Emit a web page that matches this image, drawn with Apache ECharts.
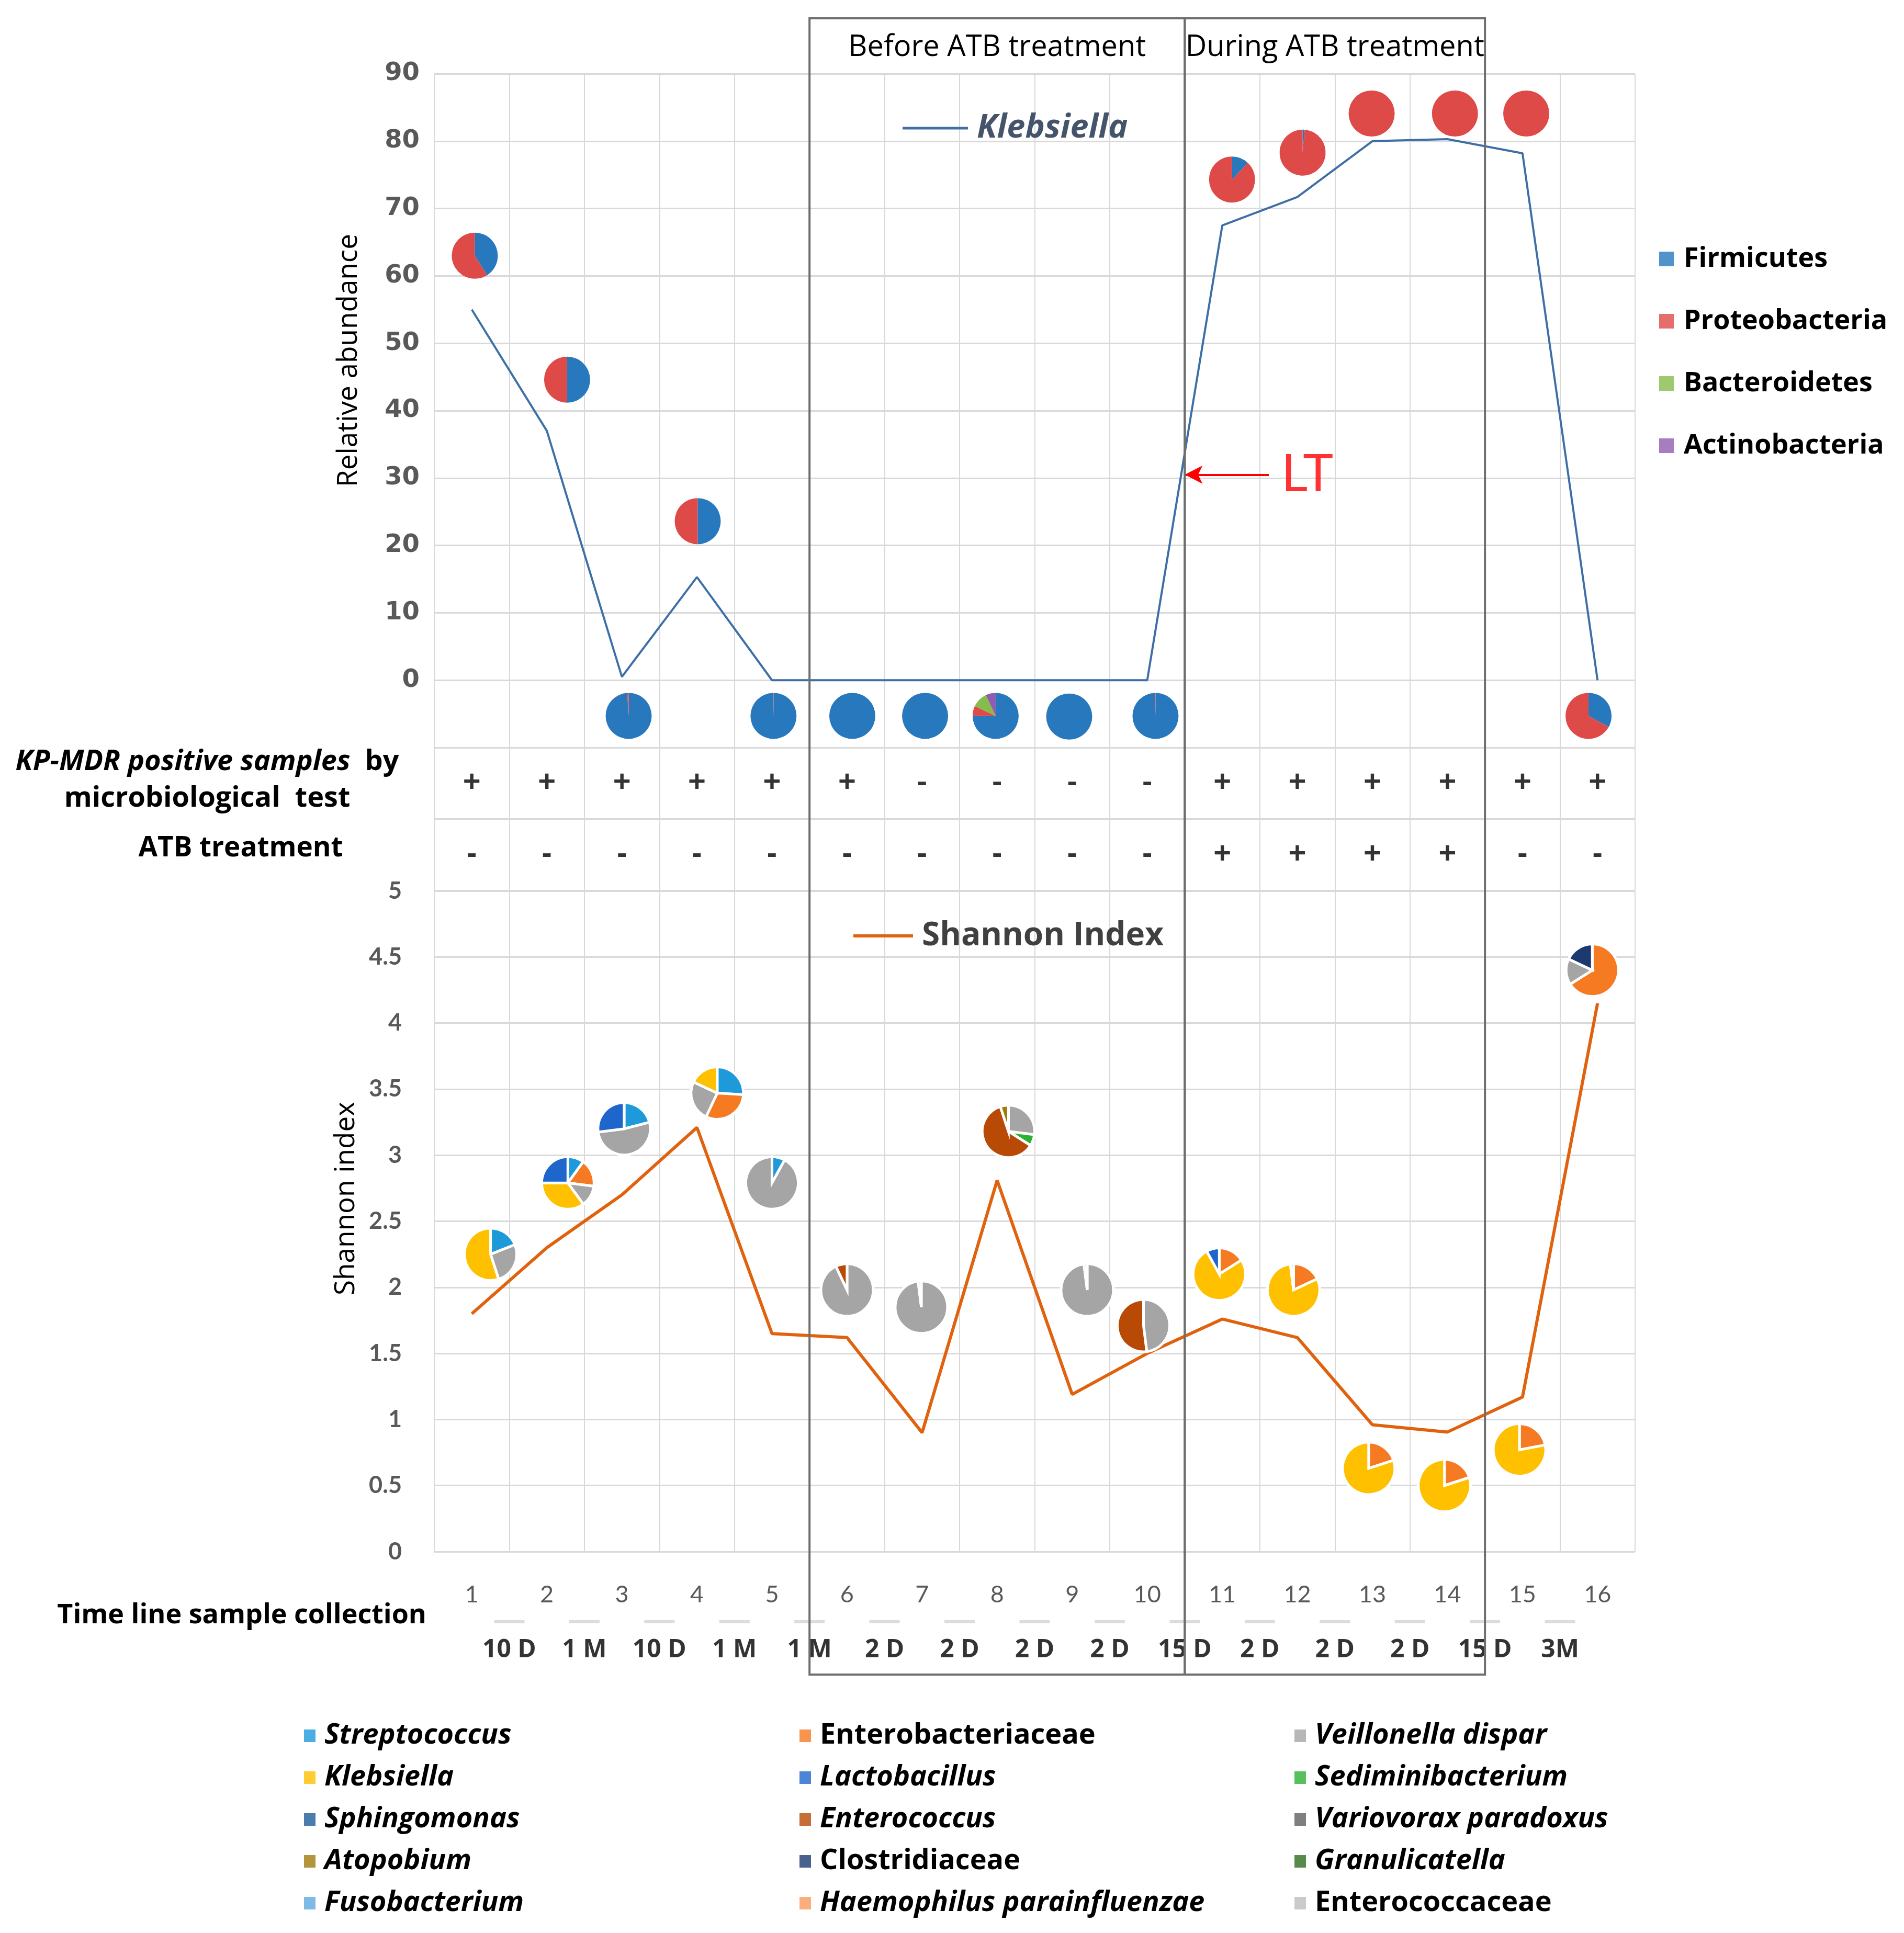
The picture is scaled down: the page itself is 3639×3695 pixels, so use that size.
<!DOCTYPE html>
<html><head><meta charset="utf-8">
<script src="https://cdn.jsdelivr.net/npm/echarts@6/dist/echarts.min.js"></script>
<style>html,body{margin:0;padding:0;background:#fff}#c{width:3639px;height:3695px}</style>
</head><body><div id="c"></div>
<script>
// ---------------- DATA ----------------
const samples = ['1','2','3','4','5','6','7','8','9','10','11','12','13','14','15','16'];
const klebsiellaAbundance = [55, 37, 0.5, 15.3, 0, 0, 0, 0, 0, 0, 67.5, 71.7, 80, 80.3, 78.2, 0];
const shannonIndex = [1.8, 2.3, 2.7, 3.21, 1.65, 1.62, 0.9, 2.81, 1.19, 1.5, 1.76, 1.62, 0.96, 0.905, 1.17, 4.15];
const kpMdrPositive = ['+','+','+','+','+','+','-','-','-','-','+','+','+','+','+','+'];
const atbTreatment  = ['-','-','-','-','-','-','-','-','-','-','+','+','+','+','-','-'];
const intervalLabels = ['10 D','1 M','10 D','1 M','1 M','2 D','2 D','2 D','2 D','15 D','2 D','2 D','2 D','15 D','3M'];
const phases = ['Before ATB treatment', 'During ATB treatment'];
const phaseStart = [5.5, 10.5];
const phaseEnd = [10.5, 14.5];
const ltLabel = 'LT';
const ltArrowFrom = [11.62, 30.5];
const ltArrowTo = [10.5, 30.5];

const phyla = ['Firmicutes', 'Proteobacteria', 'Bacteroidetes', 'Actinobacteria'];
const phylaColors = ['#2878BE', '#DE4A48', '#86BC4A', '#8E5CB0'];
const phylaPieX = [1.04, 2.27, 3.09, 4.01, 5.02, 6.07, 7.04, 7.98, 8.96, 10.11, 11.13, 12.07, 12.99, 14.1, 15.05, 15.88];
const phylaPieY = [63, 44.6, -5.3, 23.6, -5.3, -5.3, -5.3, -5.3, -5.4, -5.3, 74.3, 78.3, 84.1, 84.1, 84.1, -5.3];
const phylaShares = [
  [41, 59, 0, 0], [50, 50, 0, 0], [99, 1, 0, 0], [50, 50, 0, 0],
  [99.6, 0.4, 0, 0], [100, 0, 0, 0], [100, 0, 0, 0], [75, 7, 11, 7],
  [100, 0, 0, 0], [99.6, 0.4, 0, 0], [12, 88, 0, 0], [1.5, 98.5, 0, 0],
  [0, 100, 0, 0], [0, 100, 0, 0], [0, 100, 0, 0], [33, 67, 0, 0]
];

const genera = ['Streptococcus', 'Enterobacteriaceae', 'Veillonella dispar', 'Klebsiella', 'Lactobacillus',
  'Sediminibacterium', 'Sphingomonas', 'Enterococcus', 'Variovorax paradoxus', 'Atopobium',
  'Clostridiaceae', 'Granulicatella', 'Fusobacterium', 'Haemophilus parainfluenzae', 'Enterococcaceae'];
const generaColors = ['#1E9ADB', '#F57A22', '#A5A5A5', '#FFC000', '#1F66CC',
  '#2DB034', '#1D5C9A', '#B84A06', '#5F5F5F', '#A07A0A',
  '#1C3A70', '#2E6E1E', '#5DAAE0', '#F79A5A', '#BDBDBD'];
const familyNames = ['Enterobacteriaceae', 'Clostridiaceae', 'Enterococcaceae'];
const generaPieX = [1.25, 2.28, 3.03, 4.27, 5.0, 6.0, 6.99, 8.15, 9.2, 9.95, 10.96, 11.95, 12.95, 13.96, 14.96, 15.93];
const generaPieY = [2.25, 2.79, 3.2, 3.47, 2.79, 1.98, 1.85, 3.18, 1.98, 1.71, 2.1, 1.98, 0.63, 0.5, 0.77, 4.4];
// shares in the order of `genera`
const generaShares = [
  [19, 0, 26, 55, 0, 0, 0, 0, 0, 0, 0, 0, 0, 0, 0],
  [10, 17, 13, 35, 25, 0, 0, 0, 0, 0, 0, 0, 0, 0, 0],
  [21, 0, 52, 0, 27, 0, 0, 0, 0, 0, 0, 0, 0, 0, 0],
  [26, 31, 25, 18, 0, 0, 0, 0, 0, 0, 0, 0, 0, 0, 0],
  [8, 0, 92, 0, 0, 0, 0, 0, 0, 0, 0, 0, 0, 0, 0],
  [0, 0, 93, 0, 0, 0, 0, 7, 0, 0, 0, 0, 0, 0, 0],
  [0, 0, 98, 0, 0, 0, 0, 0, 0, 0, 0, 0, 0, 0, 2],
  [0, 0, 27, 0, 0, 7, 0, 61, 0, 5, 0, 0, 0, 0, 0],
  [0, 0, 98, 0, 0, 0, 0, 0, 0, 0, 0, 0, 0, 0, 2],
  [0, 0, 48, 0, 0, 0, 0, 52, 0, 0, 0, 0, 0, 0, 0],
  [0, 16, 0, 76, 8, 0, 0, 0, 0, 0, 0, 0, 0, 0, 0],
  [0, 18, 0, 80, 2, 0, 0, 0, 0, 0, 0, 0, 0, 0, 0],
  [0, 20, 0, 80, 0, 0, 0, 0, 0, 0, 0, 0, 0, 0, 0],
  [0, 20, 0, 80, 0, 0, 0, 0, 0, 0, 0, 0, 0, 0, 0],
  [0, 22, 0, 78, 0, 0, 0, 0, 0, 0, 0, 0, 0, 0, 0],
  [0, 66, 16, 0, 0, 0, 0, 0, 0, 0, 18, 0, 0, 0, 0]
];

// ---------------- LAYOUT / STYLE ----------------
const FONT = '"Open Sans", Lato, sans-serif';
const LFONT = 'Lato, "Open Sans", sans-serif';
const NUMFONT = '"DejaVu Sans", sans-serif';
const L = 830, W = 2295;
const gridLineH = { show: true, lineStyle: { color: '#D9D9D9', width: 3 } };
const gridLineV = { show: true, lineStyle: { color: '#D9D9D9', width: 2 } };

function pieRender(sharesList, colors, radius, strokeW) {
  return function (params, api) {
    const idx = params.dataIndex;
    const c = api.coord([api.value(0), api.value(1)]);
    const shares = sharesList[idx];
    const total = shares.reduce((a, b) => a + b, 0);
    let a = -Math.PI / 2;
    const children = [];
    shares.forEach((s, k) => {
      if (s <= 0) return;
      const e = a + s / total * 2 * Math.PI;
      children.push({
        type: 'sector',
        shape: { cx: c[0], cy: c[1], r: radius, r0: 0, startAngle: a, endAngle: e, clockwise: true },
        style: { fill: colors[k], stroke: strokeW ? '#ffffff' : null, lineWidth: strokeW }
      });
      a = e;
    });
    return { type: 'group', children };
  };
}

function catX(gridIndex, showLabels) {
  return {
    type: 'category', gridIndex, data: samples, boundaryGap: true,
    axisLine: { show: false }, axisTick: { show: false },
    axisLabel: showLabels ? { show: true, margin: 60, fontSize: 45, color: '#595959', fontFamily: LFONT } : { show: false },
    splitLine: gridLineV
  };
}
function valX(gridIndex) {
  return { type: 'value', gridIndex, min: 0.5, max: 16.5, show: false, splitLine: { show: false } };
}

const legendRich = {
  i: { fontFamily: FONT, fontSize: 54, fontWeight: 'bold', fontStyle: 'italic', color: '#000' },
  r: { fontFamily: FONT, fontSize: 54, fontWeight: 'bold', color: '#000' }
};
function genusLegend(left, names) {
  return {
    orient: 'vertical', left, top: 3281, itemWidth: 22, itemHeight: 24, itemGap: 16,
    icon: 'rect', selectedMode: false,
    data: names.map(n => 'g_' + n),
    formatter: (name) => { const n = name.slice(2); return familyNames.includes(n) ? '{r|' + n + '}' : '{i|' + n + '}'; },
    textStyle: { lineHeight: 64, padding: [0, 0, 0, 12], rich: legendRich }
  };
}

const option = {
  animation: false,
  backgroundColor: '#ffffff',
  grid: [
    { left: L, width: W, top: 141, height: 1288 },   // 0 relative abundance
    { left: L, width: W, top: 1429, height: 273 },   // 1 table
    { left: L, width: W, top: 1703, height: 1263 },  // 2 shannon
    { left: L, width: W, top: 3000, height: 200 },   // 3 timeline
    { left: L, width: W, top: 35, height: 3166 }     // 4 frame
  ],
  xAxis: [
    catX(0, false), valX(0),
    catX(1, false),
    catX(2, true), valX(2),
    valX(3),
    valX(4)
  ],
  yAxis: [
    { type: 'value', gridIndex: 0, min: -10, max: 90, interval: 10,
      axisLine: { show: false }, axisTick: { show: false }, splitLine: gridLineH,
      axisLabel: { margin: 28, fontSize: 48, fontWeight: 'bold', color: '#595959', fontFamily: NUMFONT,
        formatter: v => (v < 0 ? '' : String(v)) } },
    { type: 'category', gridIndex: 1, data: ['KP-MDR', 'ATB'], inverse: true, boundaryGap: true,
      axisLine: { show: false }, axisTick: { show: false }, axisLabel: { show: false }, splitLine: gridLineH },
    { type: 'value', gridIndex: 2, min: 0, max: 5, interval: 0.5,
      axisLine: { show: false }, axisTick: { show: false }, splitLine: gridLineH,
      axisLabel: { margin: 62, fontSize: 45, fontWeight: 'bold', color: '#595959', fontFamily: LFONT } },
    { type: 'value', gridIndex: 3, min: 0, max: 1, show: false, splitLine: { show: false } },
    { type: 'value', gridIndex: 4, min: 0, max: 1, show: false, splitLine: { show: false } }
  ],
  legend: [
    { left: 1720, top: 202, itemWidth: 125, itemHeight: 5, selectedMode: false,
      data: [{ name: 'Klebsiella', icon: 'rect' }],
      textStyle: { fontFamily: FONT, fontSize: 63, fontWeight: 'bold', fontStyle: 'italic', color: '#44546A', lineHeight: 76, padding: [0, 0, 0, 12] } },
    { left: 1626, top: 1747, itemWidth: 114, itemHeight: 6, selectedMode: false,
      data: [{ name: 'Shannon Index', icon: 'rect' }],
      textStyle: { fontFamily: FONT, fontSize: 62, fontWeight: 'bold', color: '#404040', lineHeight: 74, padding: [0, 0, 0, 12] } },
    { orient: 'vertical', left: 3166, top: 459, itemWidth: 28, itemHeight: 28, itemGap: 57, icon: 'rect', selectedMode: false,
      data: phyla,
      textStyle: { fontFamily: FONT, fontSize: 52, fontWeight: 'bold', color: '#000', lineHeight: 62, padding: [0, 0, 0, 14] } },
    genusLegend(576, genera.filter((g, i) => i % 3 === 0)),
    genusLegend(1523, genera.filter((g, i) => i % 3 === 1)),
    genusLegend(2469, genera.filter((g, i) => i % 3 === 2))
  ],
  graphic: [
    { type: 'text', x: 667, y: 689, rotation: Math.PI / 2,
      style: { text: 'Relative abundance', fontFamily: FONT, fontSize: 53, fill: '#000', align: 'center', verticalAlign: 'middle' } },
    { type: 'text', x: 662, y: 2291, rotation: Math.PI / 2,
      style: { text: 'Shannon index', fontFamily: FONT, fontSize: 53, fill: '#000', align: 'center', verticalAlign: 'middle' } },
    { type: 'text', x: 396, y: 1492,
      style: { text: '{i|KP-MDR positive samples  }{b|by}\n{b|microbiological  test}', align: 'center', verticalAlign: 'middle',
        rich: { i: { fontFamily: FONT, fontSize: 54, fontWeight: 'bold', fontStyle: 'italic', fill: '#000', lineHeight: 70 },
                b: { fontFamily: FONT, fontSize: 54, fontWeight: 'bold', fill: '#000', lineHeight: 70 } } } },
    { type: 'text', x: 460, y: 1622,
      style: { text: 'ATB treatment', fontFamily: FONT, fontSize: 53, fontWeight: 'bold', fill: '#000', align: 'center', verticalAlign: 'middle' } },
    { type: 'text', x: 815, y: 3088,
      style: { text: 'Time line sample collection', fontFamily: FONT, fontSize: 52, fontWeight: 'bold', fill: '#000', align: 'right', verticalAlign: 'middle' } }
  ],
  series: [
    // phase boxes
    { type: 'custom', name: 'phases', xAxisIndex: 6, yAxisIndex: 4, z: 5, silent: true,
      data: phases.map((p, i) => [phaseStart[i], phaseEnd[i]]),
      renderItem: (params, api) => {
        const p0 = api.coord([api.value(0), 1]);
        const p1 = api.coord([api.value(1), 0]);
        return { type: 'group', children: [
          { type: 'rect', shape: { x: p0[0], y: p0[1], width: p1[0] - p0[0], height: p1[1] - p0[1] },
            style: { fill: 'none', stroke: '#6E6E6E', lineWidth: 4 } },
          { type: 'text', style: { text: phases[params.dataIndex], x: (p0[0] + p1[0]) / 2, y: p0[1] + 56,
            align: 'center', verticalAlign: 'middle', fontFamily: FONT, fontSize: 56, fill: '#000' } }
        ] };
      } },
    // Klebsiella line
    { type: 'line', name: 'Klebsiella', xAxisIndex: 0, yAxisIndex: 0, data: klebsiellaAbundance,
      symbol: 'none', lineStyle: { color: '#3D6FA6', width: 4 }, itemStyle: { color: '#3D6FA6' }, z: 3 },
    // phyla pies
    { type: 'custom', name: 'phylaPies', xAxisIndex: 1, yAxisIndex: 0, z: 4,
      data: phylaPieX.map((x, i) => [x, phylaPieY[i]]),
      renderItem: pieRender(phylaShares, phylaColors, 44, 0) },
    // LT arrow
    { type: 'line', name: 'ltArrow', xAxisIndex: 1, yAxisIndex: 0, data: [], symbol: 'none',
      markLine: { silent: true, symbol: ['none', 'arrow'], symbolSize: [26, 34],
        lineStyle: { color: '#FF0000', width: 4, type: 'solid' }, label: { show: false },
        data: [[{ coord: ltArrowFrom }, { coord: ltArrowTo }]] } },
    { type: 'scatter', name: 'ltText', xAxisIndex: 1, yAxisIndex: 0, symbolSize: 0,
      data: [ltArrowFrom],
      label: { show: true, position: 'right', distance: 24, formatter: ltLabel, fontFamily: LFONT, fontSize: 98, color: '#FF0000' } },
    // table symbols
    { type: 'scatter', name: 'kp', xAxisIndex: 2, yAxisIndex: 1, symbolSize: 0,
      data: kpMdrPositive.map((s, i) => [i, 0]),
      label: { show: true, position: 'inside', formatter: p => kpMdrPositive[p.dataIndex], fontFamily: '"Liberation Sans", sans-serif', fontSize: 58, fontWeight: 'bold', color: '#000' } },
    { type: 'scatter', name: 'atb', xAxisIndex: 2, yAxisIndex: 1, symbolSize: 0,
      data: atbTreatment.map((s, i) => [i, 1]),
      label: { show: true, position: 'inside', formatter: p => atbTreatment[p.dataIndex], fontFamily: '"Liberation Sans", sans-serif', fontSize: 58, fontWeight: 'bold', color: '#000' } },
    // Shannon line
    { type: 'line', name: 'Shannon Index', xAxisIndex: 3, yAxisIndex: 2, data: shannonIndex,
      symbol: 'none', lineStyle: { color: '#E0620E', width: 6 }, itemStyle: { color: '#E0620E' }, z: 3 },
    // genera pies
    { type: 'custom', name: 'generaPies', xAxisIndex: 4, yAxisIndex: 2, z: 4,
      data: generaPieX.map((x, i) => [x, generaPieY[i]]),
      renderItem: pieRender(generaShares, generaColors, 50, 5) },
    // timeline dashes + interval labels
    { type: 'scatter', name: 'dashes', xAxisIndex: 5, yAxisIndex: 3, symbol: 'rect', symbolSize: [58, 6],
      itemStyle: { color: '#D3D3D3' },
      data: intervalLabels.map((t, i) => [i + 1.5, 0.5]) },
    { type: 'scatter', name: 'intervals', xAxisIndex: 5, yAxisIndex: 3, symbolSize: 0,
      data: intervalLabels.map((t, i) => [i + 1.5, 0.23]),
      label: { show: true, position: 'inside', formatter: p => intervalLabels[p.dataIndex], fontFamily: FONT, fontSize: 48, fontWeight: 'bold', color: '#000' } },
    // legend-only series
    ...phyla.map((n, i) => ({ type: 'scatter', name: n, data: [], itemStyle: { color: phylaColors[i] } })),
    ...genera.map((n, i) => ({ type: 'scatter', name: 'g_' + n, data: [], itemStyle: { color: generaColors[i] } }))
  ]
};
const chart = echarts.init(document.getElementById('c'), null, { renderer: 'canvas' });
chart.setOption(option);
</script></body></html>
